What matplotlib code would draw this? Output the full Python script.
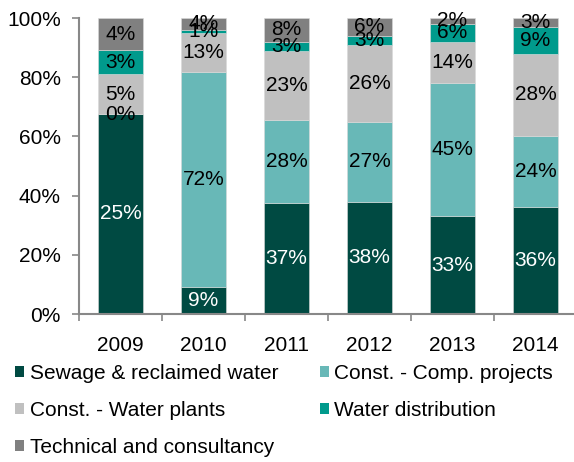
import numpy as np
import matplotlib.pyplot as plt
from matplotlib.patches import Patch

plt.rcParams['font.family'] = ['Liberation Sans', 'DejaVu Sans']

years = ['2009', '2010', '2011', '2012', '2013', '2014']
series = ['Sewage & reclaimed water', 'Const. - Comp. projects',
          'Const. - Water plants', 'Water distribution',
          'Technical and consultancy']
sewage = [25, 9, 37, 38, 33, 36]
comp_projects = [0, 72, 28, 27, 45, 24]
water_plants = [5, 13, 23, 26, 14, 28]
distribution = [3, 1, 3, 3, 6, 9]
technical = [4, 4, 8, 6, 2, 3]

colors = ['#004a42', '#68b8b7', '#c0c0c0', '#009a8c', '#808080']
text_colors = ['white', 'black', 'black', 'black', 'black']

values = np.array([sewage, comp_projects, water_plants, distribution, technical], dtype=float)
shares = values / values.sum(axis=0) * 100

fig = plt.figure(figsize=(5.74, 4.62), dpi=100)
ax = fig.add_axes([79 / 574, 1 - 314 / 462, 498 / 574, 296 / 462])

x = np.arange(len(years))
bottom = np.zeros(len(years))
for i in range(len(series)):
    ax.bar(x, shares[i], 0.55, bottom=bottom, color=colors[i],
           edgecolor='#d9d9d9', linewidth=0.4)
    for j in range(len(years)):
        ax.text(x[j], bottom[j] + shares[i][j] / 2, '%d%%' % values[i][j],
                ha='center', va='center', fontsize=15, color=text_colors[i])
    bottom += shares[i]

ax.set_xlim(-0.5, 5.5)
ax.set_ylim(0, 100)
ax.set_yticks(np.arange(0, 101, 20))
ax.set_yticklabels(['%d%%' % v for v in range(0, 101, 20)])
ax.set_xticks(x)
ax.set_xticklabels(years)
ax.set_xticks(np.arange(-0.5, 6, 1), minor=True)
ax.tick_params(axis='x', which='major', length=0, pad=16, labelsize=15)
ax.tick_params(axis='x', which='minor', length=5, width=1.2, color='#888888')
ax.tick_params(axis='y', length=5, width=1.2, color='#888888', pad=8, labelsize=15)

for s in ['top', 'right']:
    ax.spines[s].set_visible(False)
for s in ['left', 'bottom']:
    ax.spines[s].set_color('#888888')
    ax.spines[s].set_linewidth(1.5)

# legend filled column by column, so reorder to read row by row
order = [0, 2, 4, 1, 3]
handles = [Patch(facecolor=colors[k], label=series[k]) for k in order]
fig.legend(handles=handles, loc='upper left', bbox_to_anchor=(0.008, 0.234),
           ncol=2, frameon=False, fontsize=15, handlelength=0.45,
           handleheight=0.45, handletextpad=0.25, columnspacing=2.0,
           labelspacing=0.86, borderpad=0)

fig.savefig('out.png', dpi=100)
